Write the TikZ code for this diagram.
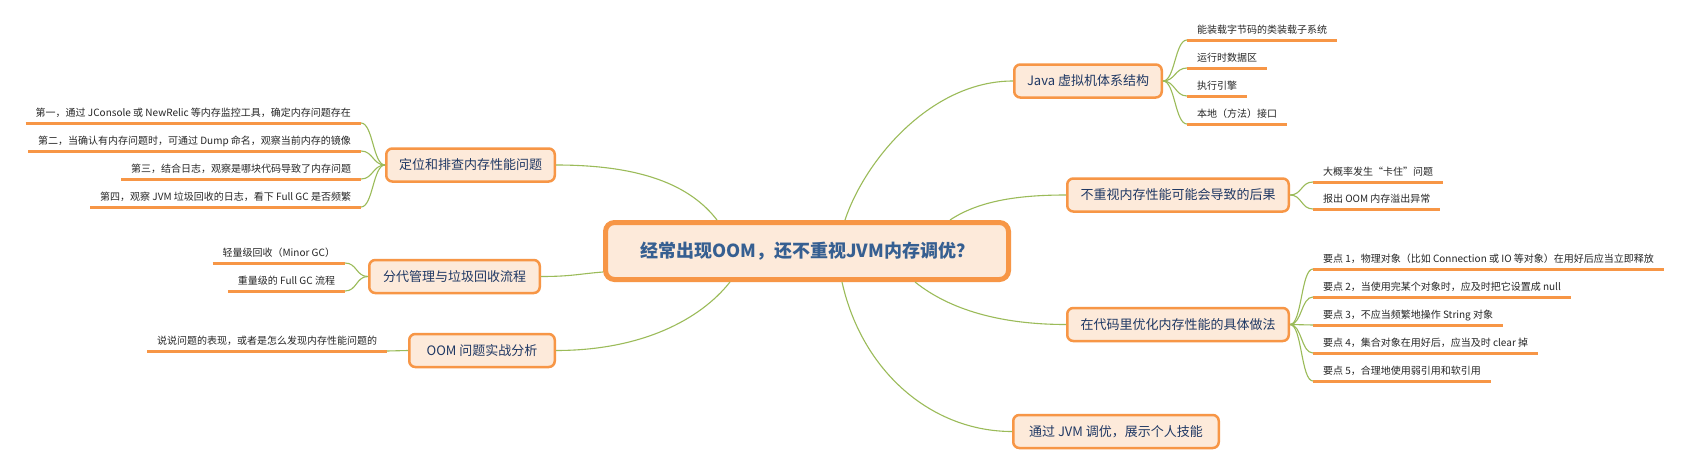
\documentclass[tikz,border=0pt]{standalone}
\usepackage{fontspec}
\setmainfont{Noto Sans CJK SC}
\definecolor{brorange}{RGB}{247,150,70}
\definecolor{brfill}{RGB}{253,234,218}
\definecolor{linkgreen}{RGB}{155,187,89}
\definecolor{rootblue}{RGB}{54,95,145}
\definecolor{branchblue}{RGB}{31,56,100}
\definecolor{leafgray}{RGB}{38,38,38}
\tikzset{
  root/.style={draw=brorange, line width=5pt, fill=brfill, rounded corners=9pt,
    minimum width=403pt, minimum height=57pt, inner sep=0pt,
    font=\fontsize{18}{20}\selectfont\bfseries, text=rootblue},
  branch/.style={draw=brorange, line width=2.5pt, fill=brfill, rounded corners=6pt,
    minimum height=33pt, inner sep=0pt,
    font=\fontsize{13}{15}\selectfont, text=branchblue},
  leaf/.style={inner xsep=10pt, inner ysep=7pt, text height=9pt, text depth=0pt,
    outer sep=0pt, font=\fontsize{10}{12}\selectfont, text=leafgray},
  underline/.style={draw=brorange, line width=3pt},
  link/.style={draw=linkgreen, line width=1.1pt},
}
\begin{document}
\begin{tikzpicture}[x=1pt,y=-1pt]
\fill[white] (0,0) rectangle (1692,466);
\useasboundingbox (0,0) rectangle (1692,466);

% root
\node[root] (root) at (807,251) {经常出现OOM，还不重视JVM内存调优？};

% branches
\node[branch, minimum width=147.5pt] (java) at (1088,81) {Java 虚拟机体系结构};
\node[branch, minimum width=221.5pt] (harm) at (1178,195) {不重视内存性能可能会导致的后果};
\node[branch, minimum width=221.5pt] (code) at (1178,324.5) {在代码里优化内存性能的具体做法};
\node[branch, minimum width=205.5pt] (show) at (1116,431.5) {通过 JVM 调优，展示个人技能};
\node[branch, minimum width=168.5pt] (loc) at (470.5,165) {定位和排查内存性能问题};
\node[branch, minimum width=170.5pt] (gen) at (454.5,276.5) {分代管理与垃圾回收流程};
\node[branch, minimum width=145.5pt] (oom) at (482,350.5) {OOM 问题实战分析};

% leaves: right side
\node[leaf, anchor=south west] (jl1) at (1187,40) {能装载字节码的类装载子系统};
\node[leaf, anchor=south west] (jl2) at (1187,68) {运行时数据区};
\node[leaf, anchor=south west] (jl3) at (1187,96) {执行引擎};
\node[leaf, anchor=south west] (jl4) at (1187,124) {本地（方法）接口};
\node[leaf, anchor=south west] (hl1) at (1313,182) {大概率发生“卡住”问题};
\node[leaf, anchor=south west] (hl2) at (1313,209) {报出 OOM 内存溢出异常};
\node[leaf, anchor=south west] (cl1) at (1313,269) {要点 1，物理对象（比如 Connection 或 IO 等对象）在用好后应当立即释放};
\node[leaf, anchor=south west] (cl2) at (1313,297) {要点 2，当使用完某个对象时，应及时把它设置成 null};
\node[leaf, anchor=south west] (cl3) at (1313,325) {要点 3，不应当频繁地操作 String 对象};
\node[leaf, anchor=south west] (cl4) at (1313,353) {要点 4，集合对象在用好后，应当及时 clear 掉};
\node[leaf, anchor=south west] (cl5) at (1313,381) {要点 5，合理地使用弱引用和软引用};

% leaves: left side
\node[leaf, anchor=south east] (ll1) at (361,123) {第一，通过 JConsole 或 NewRelic 等内存监控工具，确定内存问题存在};
\node[leaf, anchor=south east] (ll2) at (361,151) {第二，当确认有内存问题时，可通过 Dump 命名，观察当前内存的镜像};
\node[leaf, anchor=south east] (ll3) at (361,179) {第三，结合日志，观察是哪块代码导致了内存问题};
\node[leaf, anchor=south east] (ll4) at (361,207) {第四，观察 JVM 垃圾回收的日志，看下 Full GC 是否频繁};
\node[leaf, anchor=south east] (gl1) at (345,263) {轻量级回收（Minor GC）};
\node[leaf, anchor=south east] (gl2) at (345,291) {重量级的 Full GC 流程};
\node[leaf, anchor=south east] (ol1) at (387,351) {说说问题的表现，或者是怎么发现内存性能问题的};

% underlines
\foreach \n in {jl1,jl2,jl3,jl4,hl1,hl2,cl1,cl2,cl3,cl4,cl5,ll1,ll2,ll3,ll4,gl1,gl2,ol1}
  \draw[underline] (\n.south west) -- (\n.south east);

% root to branches
\draw[link] ([xshift=242pt]root.north west) .. controls +(20,-60) and +(-82,0) .. (java.west);
\draw[link] ([xshift=347pt]root.north west) .. controls +(30,-20) and +(-45,0) .. (harm.west);
\draw[link] ([xshift=312pt]root.south west) .. controls +(35,28) and +(-65,0) .. (code.west);
\draw[link] ([xshift=239pt]root.south west) .. controls +(20,90) and +(-80,0) .. (show.west);
\draw[link] (loc.east) .. controls +(85,0) and +(-27,-35) .. ([xshift=114pt]root.north west);
\draw[link] (gen.east) .. controls +(30,0) and +(-25,2) .. ([yshift=-21pt]root.west);
\draw[link] (oom.east) .. controls +(85,0) and +(-30,38) .. ([xshift=127pt]root.south west);

% branches to leaves
\foreach \n in {jl1,jl2,jl3,jl4}
  \draw[link] (java.east) .. controls +(12,0) and +(-12,0) .. (\n.south west);
\foreach \n in {hl1,hl2}
  \draw[link] (harm.east) .. controls +(12,0) and +(-12,0) .. (\n.south west);
\foreach \n in {cl1,cl2,cl3,cl4,cl5}
  \draw[link] (code.east) .. controls +(12,0) and +(-12,0) .. (\n.south west);
\foreach \n in {ll1,ll2,ll3,ll4}
  \draw[link] (loc.west) .. controls +(-12,0) and +(12,0) .. (\n.south east);
\foreach \n in {gl1,gl2}
  \draw[link] (gen.west) .. controls +(-12,0) and +(12,0) .. (\n.south east);
\draw[link] (oom.west) -- (ol1.south east);
\end{tikzpicture}
\end{document}
